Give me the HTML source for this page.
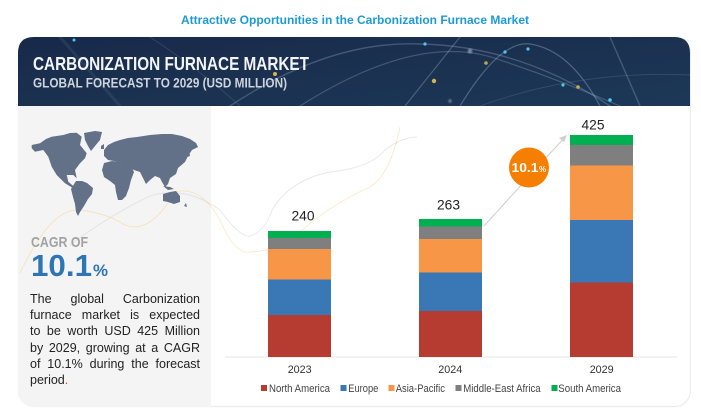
<!DOCTYPE html>
<html><head><meta charset="utf-8">
<style>
html,body{margin:0;padding:0;background:#fff;}
body{width:701px;height:411px;overflow:hidden;position:relative;font-family:"Liberation Sans",Arial,sans-serif;}
svg{position:absolute;left:0;top:0;}
.para{position:absolute;left:30px;top:291px;width:170px;font-size:12.5px;line-height:16.2px;color:#222;}
.para div{text-align:justify;text-align-last:justify;white-space:nowrap;}
.para div.last{text-align-last:left;}
</style></head>
<body>
<svg width="701" height="411" viewBox="0 0 701 411" xmlns="http://www.w3.org/2000/svg">
<defs>
<linearGradient id="hdr" x1="0" y1="0" x2="1" y2="1">
<stop offset="0" stop-color="#18294a"/>
<stop offset="0.5" stop-color="#1b3150"/>
<stop offset="1" stop-color="#1c3858"/>
</linearGradient>
<radialGradient id="glow" cx="0.5" cy="0.5" r="0.5">
<stop offset="0" stop-color="#ffffff" stop-opacity="0.9"/>
<stop offset="1" stop-color="#ffffff" stop-opacity="0"/>
</radialGradient>
<clipPath id="hclip"><path d="M18,106 L18,53 Q18,37 34,37 L674,37 Q690,37 690,53 L690,106 Z"/></clipPath>
</defs>

<!-- title -->
<text x="355" y="24" text-anchor="middle" font-family="Liberation Sans, Arial, sans-serif" font-weight="bold" font-size="12" fill="#1d9ad6" textLength="348" lengthAdjust="spacingAndGlyphs">Attractive Opportunities in the Carbonization Furnace Market</text>

<!-- card -->
<rect x="18.5" y="37.5" width="672" height="369" rx="16" ry="16" fill="#fff" stroke="#ececec" stroke-width="1.2"/>
<!-- left panel -->
<path d="M18,106 L211,106 L211,407 L38,407 Q18,407 18,387 Z" fill="#f4f4f4"/>

<!-- header -->
<path d="M18,106 L18,53 Q18,37 34,37 L674,37 Q690,37 690,53 L690,106 Z" fill="url(#hdr)"/>
<g clip-path="url(#hclip)" fill="none" stroke-linecap="round">
<path d="M230,106 Q330,40 420,44 Q520,46 610,106" stroke="#8fa6c0" stroke-opacity="0.35" stroke-width="1.4"/>
<path d="M300,106 Q420,30 500,60 Q560,80 620,106" stroke="#9ab0c8" stroke-opacity="0.3" stroke-width="1.2"/>
<path d="M460,106 Q500,40 530,44 Q570,50 600,106" stroke="#b0c2d6" stroke-opacity="0.35" stroke-width="1.2"/>
<path d="M405,106 L460,37" stroke="#b7c6d6" stroke-opacity="0.3" stroke-width="1.2"/>
<path d="M640,106 L610,37" stroke="#b7c6d6" stroke-opacity="0.25" stroke-width="1.5"/>
<path d="M150,37 Q200,70 240,106" stroke="#8fa6c0" stroke-opacity="0.2" stroke-width="1"/>
<path d="M480,106 Q580,70 690,75" stroke="#8fa6c0" stroke-opacity="0.2" stroke-width="1"/>
<path d="M60,37 L120,106" stroke="#8fa6c0" stroke-opacity="0.12" stroke-width="3"/>
</g>
<g>
<circle cx="275" cy="74" r="2" fill="#e8c44a" opacity="0.9"/>
<circle cx="434" cy="81" r="2.2" fill="#e8c44a" opacity="0.9"/>
<circle cx="486" cy="63" r="1.8" fill="#e8c44a" opacity="0.8"/>
<circle cx="578" cy="87" r="1.8" fill="#e8c44a" opacity="0.8"/>
<circle cx="425" cy="44" r="1.6" fill="#4fc8f0"/>
<circle cx="505" cy="52" r="1.6" fill="#4fc8f0"/>
<circle cx="528" cy="49" r="1.6" fill="#4fc8f0"/>
<circle cx="563" cy="85" r="1.6" fill="#4fc8f0"/>
<circle cx="610" cy="100" r="1.8" fill="#4fc8f0"/>
<circle cx="74" cy="40" r="1.5" fill="#4fc8f0"/>
<circle cx="470" cy="51" r="3.5" fill="url(#glow)" opacity="0.6"/>
<circle cx="450" cy="101" r="3" fill="url(#glow)" opacity="0.4"/>
</g>
<text x="33" y="70" font-family="Liberation Sans, Arial, sans-serif" font-weight="bold" font-size="18" fill="#f2f4f7" textLength="276" lengthAdjust="spacingAndGlyphs">CARBONIZATION FURNACE MARKET</text>
<text x="33" y="87.5" font-family="Liberation Sans, Arial, sans-serif" font-weight="bold" font-size="13.5" fill="#cdd4dd" textLength="254" lengthAdjust="spacingAndGlyphs">GLOBAL FORECAST TO 2029 (USD MILLION)</text>

<!-- decorative curves (faint) -->
<g fill="none" stroke-width="0.9">
<path d="M20,273 Q50,210 77,210 Q105,212 125,225 Q150,235 175,192 Q200,185 220,220 Q235,255 250,252 Q285,250 300,232 Q330,205 370,187 Q390,175 400,127" stroke="#f2d27a" stroke-opacity="0.45"/>
<path d="M70,245 Q110,215 150,196 Q185,185 220,210 Q240,238 250,236 Q265,232 272,210 Q290,180 330,172 Q370,168 385,150 Q400,138 417,137" stroke="#cccccc" stroke-opacity="0.45"/>
</g>

<!-- world map -->
<g fill="#627088">
<path d="M31.7,145 L40,143.3 L46,139 L51.7,136.7 L63.3,135 L70,133 L76.7,132.7 L81.7,136.7 L80,145 L86.7,153.3 L85,158.3 L80,163.3 L75,170 L76.7,178.3 L73.3,175 L66.7,175 L68.3,181.7 L73.3,186 L77.3,188.3 L73.3,188.3 L65,183.3 L56.7,175 L51.7,166.7 L48.3,156.7 L43.3,150 L35,151.7 L31.7,148.3 Z"/>
<path d="M84,133 L95,131 L102,132 L100,140 L95,146 L91,151 L88,146 L85,140 Z"/>
<path d="M76,181 L82,181 L87,183 L93,188 L92,194 L88,199 L84,206 L80,212 L78,216 L76,212 L75,204 L73,197 L71,189 Z"/>
<path d="M104,150 L108,145 L114,142 L120,140 L128,138 L137,137 L150,135 L162,134 L172,134 L182,136 L190,139 L196,143 L198,147 L192,150 L188,156 L185,162 L178,168 L176,174 L170,178 L168,184 L165,187 L162,182 L160,178 L155,176 L150,180 L146,184 L143,178 L140,172 L134,170 L128,167 L122,163 L114,161 L108,160 L104,156 Z"/>
<path d="M104,163 L112,161 L120,162 L126,165 L132,168 L134,172 L131,180 L129,188 L126,196 L122,200 L118,200 L116,192 L115,185 L110,181 L104,177 L102,170 Z"/>
<path d="M163,194 L170,192 L176,191 L180,196 L180,202 L174,204 L168,202 L163,201 Z"/>
<path d="M101,146 L104,144 L104,149 L101,149 Z"/>
<path d="M186,152 L189,150 L190,156 L187,157 Z"/>
<path d="M163,186 L170,187 L174,189 L168,190 Z"/>
<path d="M184,206 L186,203 L187,207 Z"/>
</g>

<!-- CAGR -->
<text x="31" y="247" font-family="Liberation Sans, Arial, sans-serif" font-weight="bold" font-size="15" fill="#a2a2a2" textLength="57" lengthAdjust="spacingAndGlyphs">CAGR OF</text>
<text x="31" y="276" font-family="Liberation Sans, Arial, sans-serif" font-weight="bold" font-size="31" fill="#2e75b6" textLength="61" lengthAdjust="spacingAndGlyphs">10.1</text>
<text x="93" y="276" font-family="Liberation Sans, Arial, sans-serif" font-weight="bold" font-size="17" fill="#2e75b6" textLength="15" lengthAdjust="spacingAndGlyphs">%</text>

<!-- chart baseline -->
<line x1="225" y1="357" x2="677" y2="357" stroke="#e4e4e4" stroke-width="1"/>

<!-- 2023 -->
<rect x="268" y="231" width="63" height="7" fill="#00b050"/>
<rect x="268" y="238" width="63" height="11" fill="#7f7f7f"/>
<rect x="268" y="249" width="63" height="30.5" fill="#f79646"/>
<rect x="268" y="279.5" width="63" height="35.5" fill="#3a77b5"/>
<rect x="268" y="315" width="63" height="42" fill="#b63b31"/>
<!-- 2024 -->
<rect x="419" y="219" width="63" height="7.5" fill="#00b050"/>
<rect x="419" y="226.5" width="63" height="12.5" fill="#7f7f7f"/>
<rect x="419" y="239" width="63" height="33.5" fill="#f79646"/>
<rect x="419" y="272.5" width="63" height="38.5" fill="#3a77b5"/>
<rect x="419" y="311" width="63" height="46" fill="#b63b31"/>
<!-- 2029 -->
<rect x="570" y="135" width="63" height="10" fill="#00b050"/>
<rect x="570" y="145" width="63" height="20.5" fill="#7f7f7f"/>
<rect x="570" y="165.5" width="63" height="54.5" fill="#f79646"/>
<rect x="570" y="220" width="63" height="62.5" fill="#3a77b5"/>
<rect x="570" y="282.5" width="63" height="74.5" fill="#b63b31"/>

<!-- data labels -->
<g font-family="Liberation Sans, Arial, sans-serif" font-size="14" fill="#222" text-anchor="middle">
<text x="303" y="220.3" textLength="23" lengthAdjust="spacingAndGlyphs">240</text>
<text x="448.5" y="209.7" textLength="23" lengthAdjust="spacingAndGlyphs">263</text>
<text x="593" y="129.3" textLength="23" lengthAdjust="spacingAndGlyphs">425</text>
</g>

<!-- arrow -->
<line x1="484" y1="226" x2="565" y2="137" stroke="#cfcfcf" stroke-width="1"/>
<path d="M567,135 L559,138 L564,142 Z" fill="#cfcfcf"/>
<circle cx="529" cy="167.5" r="20" fill="#f77f00"/>
<text x="511.5" y="172" font-family="Liberation Sans, Arial, sans-serif" font-weight="bold" font-size="13" fill="#fff" textLength="27" lengthAdjust="spacingAndGlyphs">10.1</text>
<text x="539" y="172" font-family="Liberation Sans, Arial, sans-serif" font-weight="bold" font-size="8" fill="#fff">%</text>

<!-- year labels -->
<g font-family="Liberation Sans, Arial, sans-serif" font-size="11" fill="#333" text-anchor="middle">
<text x="299.7" y="373" textLength="24" lengthAdjust="spacingAndGlyphs">2023</text>
<text x="450.3" y="373" textLength="24" lengthAdjust="spacingAndGlyphs">2024</text>
<text x="601.7" y="373" textLength="24" lengthAdjust="spacingAndGlyphs">2029</text>
</g>

<!-- legend -->
<rect x="261" y="385" width="6" height="6" fill="#b63b31"/>
<rect x="340.5" y="385" width="6" height="6" fill="#3a77b5"/>
<rect x="388.5" y="385" width="6" height="6" fill="#f79646"/>
<rect x="455.5" y="385" width="6" height="6" fill="#7f7f7f"/>
<rect x="551.5" y="385" width="6" height="6" fill="#00b050"/>
<g font-family="Liberation Sans, Arial, sans-serif" font-size="11" fill="#444">
<text x="269" y="392" textLength="61" lengthAdjust="spacingAndGlyphs">North America</text>
<text x="348.3" y="392" textLength="30" lengthAdjust="spacingAndGlyphs">Europe</text>
<text x="395.7" y="392" textLength="49.3" lengthAdjust="spacingAndGlyphs">Asia-Pacific</text>
<text x="463.3" y="392" textLength="77.3" lengthAdjust="spacingAndGlyphs">Middle-East Africa</text>
<text x="558.3" y="392" textLength="62.7" lengthAdjust="spacingAndGlyphs">South America</text>
</g>
</svg>

<div class="para">
<div>The global Carbonization</div>
<div>furnace market is expected</div>
<div>to be worth USD 425 Million</div>
<div>by 2029, growing at a CAGR</div>
<div>of 10.1% during the forecast</div>
<div class="last">period<span style="color:#e0404a">.</span></div>
</div>
</body></html>
